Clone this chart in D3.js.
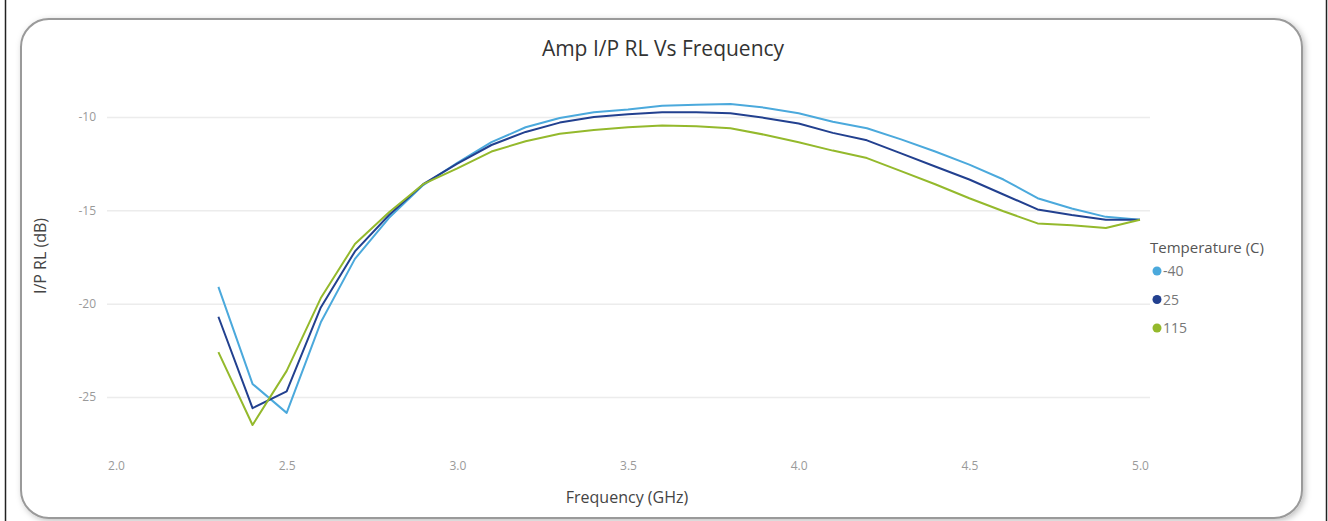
<!DOCTYPE html>
<html>
<head>
<meta charset="utf-8">
<script src="https://cdn.jsdelivr.net/npm/d3@7"></script>
<style>
  body { margin: 0; background: #fff; }
  svg { display: block; font-family: "Open Sans", "Noto Sans", sans-serif; }
</style>
</head>
<body>
<svg id="chart" width="1328" height="521"></svg>
<script>
var svg = d3.select("#chart");
var width = +svg.attr("width");
var height = +svg.attr("height");

// data
var freqs = [2.3, 2.4, 2.5, 2.6, 2.7, 2.8, 2.9, 3.0, 3.1, 3.2, 3.3, 3.4, 3.5, 3.6,
  3.7, 3.8, 3.9, 4.0, 4.1, 4.2, 4.3, 4.4, 4.5, 4.6, 4.7, 4.8, 4.9, 5.0];
var tempLabels = ["-40", "25", "115"];
var tempColors = ["#4ba9dc", "#22408f", "#94b92c"];
var rlMinus40 = [-19.1, -24.3, -25.85, -21.0, -17.6, -15.4, -13.65, -12.45, -11.35, -10.55,
  -10.05, -9.75, -9.6, -9.4, -9.35, -9.3, -9.5, -9.8, -10.25, -10.6,
  -11.2, -11.85, -12.55, -13.35, -14.35, -14.9, -15.35, -15.5];
var rl25 = [-20.7, -25.6, -24.7, -20.2, -17.2, -15.25, -13.6, -12.5, -11.5, -10.8,
  -10.3, -10.0, -9.85, -9.75, -9.75, -9.8, -10.05, -10.35, -10.85, -11.25,
  -11.95, -12.65, -13.35, -14.15, -14.95, -15.25, -15.5, -15.5];
var rl115 = [-22.6, -26.5, -23.6, -19.7, -16.8, -15.1, -13.6, -12.75, -11.85, -11.3,
  -10.9, -10.7, -10.55, -10.45, -10.5, -10.6, -10.95, -11.35, -11.8, -12.2,
  -12.9, -13.6, -14.35, -15.05, -15.7, -15.8, -15.95, -15.5];
var xTicks = [2.0, 2.5, 3.0, 3.5, 4.0, 4.5, 5.0];
var yTicks = [-10, -15, -20, -25];

var series = [rlMinus40, rl25, rl115];

// outer frame lines
svg.append("line").attr("x1", 5.5).attr("x2", 5.5).attr("y1", 0).attr("y2", height)
  .attr("stroke", "#222").attr("stroke-width", 1.5);
svg.append("line").attr("x1", 1326.5).attr("x2", 1326.5).attr("y1", 0).attr("y2", height)
  .attr("stroke", "#222").attr("stroke-width", 1.5);

// card with shadow
var defs = svg.append("defs");
var shadow = defs.append("filter").attr("id", "shadow")
  .attr("x", "-5%").attr("y", "-5%").attr("width", "110%").attr("height", "110%");
shadow.append("feDropShadow").attr("dx", 2).attr("dy", 2).attr("stdDeviation", 3)
  .attr("flood-color", "#000").attr("flood-opacity", 0.25);

svg.append("rect")
  .attr("x", 21).attr("y", 19).attr("width", 1281).attr("height", 499)
  .attr("rx", 28).attr("ry", 28)
  .attr("fill", "#fff").attr("stroke", "#9a9a9a").attr("stroke-width", 2)
  .attr("filter", "url(#shadow)");

var xScale = d3.scaleLinear().domain([2.0, 5.0]).range([116, 1140]);
var yScale = d3.scaleLinear().domain([-10, -25]).range([117, 397]);

// grid lines
var grid = d3.axisLeft(yScale).tickValues(yTicks).tickSize(-(1150 - 107)).tickFormat("");
svg.append("g")
  .attr("transform", "translate(107,0)")
  .call(grid)
  .call(g => g.select(".domain").remove())
  .call(g => g.selectAll("line").attr("stroke", "#ececec").attr("stroke-width", 1.5));

// y tick labels (plain hyphen like the original)
var leftAxis = d3.axisLeft(yScale).tickValues(yTicks).tickSize(0).tickPadding(0)
  .tickFormat(function (d) { return String(d); });
svg.append("g")
  .attr("transform", "translate(96,0)")
  .call(leftAxis)
  .call(g => g.select(".domain").remove())
  .call(g => g.selectAll("text").attr("fill", "#9a9a9a").style("font-size", "12px")
    .style("font-family", "'Open Sans', sans-serif"));

// x tick labels
var bottomAxis = d3.axisBottom(xScale).tickValues(xTicks).tickSize(0).tickPadding(0)
  .tickFormat(d3.format(".1f"));
svg.append("g")
  .attr("transform", "translate(0,461)")
  .call(bottomAxis)
  .call(g => g.select(".domain").remove())
  .call(g => g.selectAll("text").attr("fill", "#9a9a9a").style("font-size", "12px")
    .style("font-family", "'Open Sans', sans-serif"));

// lines
var line = d3.line()
  .x(function (d, i) { return xScale(freqs[i]); })
  .y(function (d) { return yScale(d); });

series.forEach(function (s, i) {
  svg.append("path")
    .datum(s)
    .attr("d", line)
    .attr("fill", "none")
    .attr("stroke", tempColors[i])
    .attr("stroke-width", 2)
    .attr("stroke-linejoin", "round");
});

// title
svg.append("text")
  .attr("x", 663).attr("y", 56)
  .attr("text-anchor", "middle")
  .attr("fill", "#333")
  .style("font-size", "21px")
  .text("Amp I/P RL Vs Frequency");

// axis labels
svg.append("text")
  .attr("x", 627).attr("y", 503)
  .attr("text-anchor", "middle")
  .attr("fill", "#444")
  .style("font-size", "16px")
  .text("Frequency (GHz)");

svg.append("text")
  .attr("transform", "translate(46,256)rotate(-90)")
  .attr("text-anchor", "middle")
  .attr("fill", "#444")
  .style("font-size", "16px")
  .text("I/P RL (dB)");

// legend
var legend = svg.append("g").attr("transform", "translate(1150,0)");
legend.append("text")
  .attr("x", 0).attr("y", 253)
  .attr("fill", "#555")
  .style("font-size", "15px")
  .text("Temperature (C)");

tempLabels.forEach(function (t, i) {
  var cy = 271 + i * 28.5;
  legend.append("circle")
    .attr("cx", 7).attr("cy", cy).attr("r", 4.5)
    .attr("fill", tempColors[i]);
  legend.append("text")
    .attr("x", 13).attr("y", cy + 5)
    .attr("fill", "#777")
    .style("font-size", "14px")
    .text(t);
});
</script>
</body>
</html>
